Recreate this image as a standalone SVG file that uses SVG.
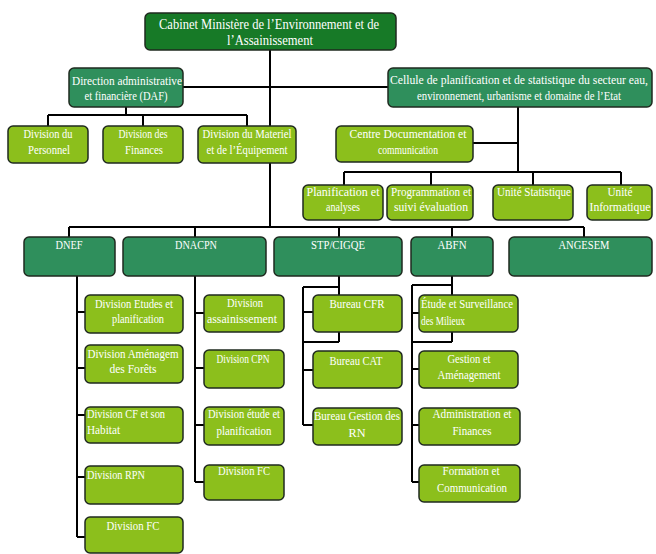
<svg xmlns="http://www.w3.org/2000/svg" width="656" height="554" viewBox="0 0 656 554">
<style>
.bg{fill:#ffffff}
.top{fill:#177a27;stroke:#1f2a1f;stroke-width:1.5}
.mid{fill:#2f8f5c;stroke:#1f2a1f;stroke-width:1.5}
.lt{fill:#8cbf1c;stroke:#1f2a1f;stroke-width:1.5}
.ln{stroke:#000;stroke-width:2;fill:none}
text{font-family:'Liberation Serif','Times New Roman',serif;fill:#ffffff;font-size:12px}
.c{text-anchor:middle}
.t14{font-size:14px}
</style>
<rect class="bg" x="0" y="0" width="656" height="554"/>
<g id="connectors">
<path class="ln" d="M270 50V227M183 87H388"/>
<path class="ln" d="M126 107V115M48 115H247M48 115V126M143 115V126M247 115V126"/>
<path class="ln" d="M518 107V172M473 143H518M344 172H621M344 172V185M431 172V185M533 172V185M621 172V185"/>
<path class="ln" d="M69 227H584M69 227V237M195 227V237M339 227V237M452 227V237M584 227V237"/>
<path class="ln" d="M77 276V537M77 312H85M77 368H85M77 415H85M77 477H85M77 537H85"/>
<path class="ln" d="M195 276V482M195 313H204M195 368H204M195 425H204M195 482H204"/>
<path class="ln" d="M339 276V342M303 287H339M303 342H339M303 287V425M303 312H313M303 370H313M303 425H313"/>
<path class="ln" d="M452 276V342M412 285H452M412 342H452M412 285V482M412 313H419M412 369H419M412 425H419M412 482H419"/>
</g>
<g id="cabinet"><rect class="top" x="145" y="13" width="251" height="37" rx="5"/>
<text class="c t14" x="269" y="29" textLength="220" lengthAdjust="spacingAndGlyphs">Cabinet Ministère de l’Environnement et de</text>
<text class="c t14" x="270" y="45" textLength="86" lengthAdjust="spacingAndGlyphs">l’Assainissement</text></g>
<g id="daf"><rect class="mid" x="69" y="68" width="114" height="39" rx="5"/>
<text class="c" x="127" y="85" textLength="110" lengthAdjust="spacingAndGlyphs">Direction administrative</text>
<text class="c" x="126" y="100" textLength="83" lengthAdjust="spacingAndGlyphs">et financière (DAF)</text></g>
<g id="cellule"><rect class="mid" x="388" y="68" width="264" height="39" rx="5"/>
<text class="c" x="519" y="84" textLength="258" lengthAdjust="spacingAndGlyphs">Cellule de planification et de statistique du secteur  eau,</text>
<text class="c" x="519" y="100" textLength="204" lengthAdjust="spacingAndGlyphs">environnement, urbanisme et domaine de l’Etat</text></g>
<g id="personnel"><rect class="lt" x="8" y="126" width="80" height="37" rx="5"/>
<text class="c" x="48" y="138" textLength="49" lengthAdjust="spacingAndGlyphs">Division du</text>
<text class="c" x="49" y="154" textLength="42" lengthAdjust="spacingAndGlyphs">Personnel</text></g>
<g id="finances"><rect class="lt" x="103" y="126" width="80" height="37" rx="5"/>
<text class="c" x="143" y="138" textLength="49" lengthAdjust="spacingAndGlyphs">Division des</text>
<text class="c" x="144" y="154" textLength="38" lengthAdjust="spacingAndGlyphs">Finances</text></g>
<g id="materiel"><rect class="lt" x="198" y="126" width="98" height="37" rx="5"/>
<text class="c" x="247" y="138" textLength="89" lengthAdjust="spacingAndGlyphs">Division du Materiel</text>
<text class="c" x="247" y="154" textLength="81" lengthAdjust="spacingAndGlyphs">et de l’Équipement</text></g>
<g id="centre-doc"><rect class="lt" x="336" y="126" width="137" height="36" rx="5"/>
<text class="c" x="408" y="138" textLength="117" lengthAdjust="spacingAndGlyphs">Centre Documentation et</text>
<text class="c" x="408" y="154" textLength="60" lengthAdjust="spacingAndGlyphs">communication</text></g>
<g id="planif"><rect class="lt" x="303" y="185" width="80" height="35" rx="5"/>
<text class="c" x="343" y="196" textLength="73" lengthAdjust="spacingAndGlyphs">Planification et</text>
<text class="c" x="343" y="211" textLength="34" lengthAdjust="spacingAndGlyphs">analyses</text></g>
<g id="programmation"><rect class="lt" x="387" y="185" width="86" height="35" rx="5"/>
<text class="c" x="431" y="196" textLength="80" lengthAdjust="spacingAndGlyphs">Programmation et</text>
<text class="c" x="431" y="211" textLength="74" lengthAdjust="spacingAndGlyphs">suivi évaluation</text></g>
<g id="unite-stat"><rect class="lt" x="493" y="185" width="80" height="35" rx="5"/>
<text class="c" x="534" y="196" textLength="74" lengthAdjust="spacingAndGlyphs">Unité Statistique</text></g>
<g id="unite-info"><rect class="lt" x="587" y="185" width="65" height="35" rx="5"/>
<text class="c" x="620" y="196" textLength="25" lengthAdjust="spacingAndGlyphs">Unité</text>
<text class="c" x="620" y="211" textLength="61" lengthAdjust="spacingAndGlyphs">Informatique</text></g>
<g id="dnef"><rect class="mid" x="24" y="237" width="91" height="39" rx="5"/>
<text class="c" x="69" y="249" textLength="27" lengthAdjust="spacingAndGlyphs">DNEF</text></g>
<g id="dnacpn"><rect class="mid" x="123" y="237" width="143" height="39" rx="5"/>
<text class="c" x="196" y="249" textLength="42" lengthAdjust="spacingAndGlyphs">DNACPN</text></g>
<g id="stp"><rect class="mid" x="274" y="237" width="128" height="39" rx="5"/>
<text class="c" x="338" y="249" textLength="54" lengthAdjust="spacingAndGlyphs">STP/CIGQE</text></g>
<g id="abfn"><rect class="mid" x="411" y="237" width="82" height="39" rx="5"/>
<text class="c" x="452" y="249" textLength="29" lengthAdjust="spacingAndGlyphs">ABFN</text></g>
<g id="angesem"><rect class="mid" x="509" y="237" width="143" height="39" rx="5"/>
<text class="c" x="584" y="249" textLength="51" lengthAdjust="spacingAndGlyphs">ANGESEM</text></g>
<g id="dnef-etudes"><rect class="lt" x="85" y="295" width="98" height="38" rx="5"/>
<text class="c" x="134" y="308" textLength="78" lengthAdjust="spacingAndGlyphs">Division Etudes et</text>
<text class="c" x="138" y="323" textLength="52" lengthAdjust="spacingAndGlyphs">planification</text></g>
<g id="dnef-amenag"><rect class="lt" x="85" y="345" width="98" height="38" rx="5"/>
<text class="c" x="133" y="358" textLength="91" lengthAdjust="spacingAndGlyphs">Division Aménagem</text>
<text class="c" x="133" y="373" textLength="47" lengthAdjust="spacingAndGlyphs">des Forêts</text></g>
<g id="dnef-cf"><rect class="lt" x="85" y="407" width="98" height="36" rx="5"/>
<text x="87" y="418" textLength="78" lengthAdjust="spacingAndGlyphs">Division CF et son</text>
<text x="87" y="434" textLength="33" lengthAdjust="spacingAndGlyphs">Habitat</text></g>
<g id="dnef-rpn"><rect class="lt" x="85" y="466" width="98" height="38" rx="5"/>
<text x="87" y="479" textLength="58" lengthAdjust="spacingAndGlyphs">Division RPN</text></g>
<g id="dnef-fc"><rect class="lt" x="85" y="517" width="98" height="36" rx="5"/>
<text class="c" x="133" y="530" textLength="53" lengthAdjust="spacingAndGlyphs">Division FC</text></g>
<g id="dnacpn-assain"><rect class="lt" x="204" y="295" width="80" height="37" rx="5"/>
<text class="c" x="245" y="307" textLength="36" lengthAdjust="spacingAndGlyphs">Division</text>
<text class="c" x="242" y="323" textLength="70" lengthAdjust="spacingAndGlyphs">assainissement</text></g>
<g id="dnacpn-cpn"><rect class="lt" x="204" y="350" width="80" height="38" rx="5"/>
<text class="c" x="243" y="363" textLength="53" lengthAdjust="spacingAndGlyphs">Division CPN</text></g>
<g id="dnacpn-etude"><rect class="lt" x="204" y="407" width="80" height="38" rx="5"/>
<text class="c" x="244" y="418" textLength="72" lengthAdjust="spacingAndGlyphs">Division étude et</text>
<text class="c" x="244" y="435" textLength="55" lengthAdjust="spacingAndGlyphs">planification</text></g>
<g id="dnacpn-fc"><rect class="lt" x="204" y="465" width="80" height="35" rx="5"/>
<text class="c" x="244" y="475" textLength="52" lengthAdjust="spacingAndGlyphs">Division FC</text></g>
<g id="stp-cfr"><rect class="lt" x="313" y="295" width="89" height="37" rx="5"/>
<text class="c" x="357" y="308" textLength="55" lengthAdjust="spacingAndGlyphs">Bureau CFR</text></g>
<g id="stp-cat"><rect class="lt" x="313" y="351" width="89" height="37" rx="5"/>
<text class="c" x="356" y="365" textLength="53" lengthAdjust="spacingAndGlyphs">Bureau CAT</text></g>
<g id="stp-rn"><rect class="lt" x="313" y="408" width="89" height="37" rx="5"/>
<text class="c" x="357" y="420" textLength="86" lengthAdjust="spacingAndGlyphs">Bureau Gestion des</text>
<text class="c" x="357" y="437" textLength="17" lengthAdjust="spacingAndGlyphs">RN</text></g>
<g id="abfn-etude"><rect class="lt" x="419" y="295" width="99" height="37" rx="5"/>
<text x="421" y="308" textLength="92" lengthAdjust="spacingAndGlyphs">Étude et Surveillance</text>
<text x="421" y="325" textLength="44" lengthAdjust="spacingAndGlyphs">des Milieux</text></g>
<g id="abfn-gestion"><rect class="lt" x="419" y="351" width="99" height="37" rx="5"/>
<text class="c" x="469" y="363" textLength="43" lengthAdjust="spacingAndGlyphs">Gestion et</text>
<text class="c" x="469" y="379" textLength="63" lengthAdjust="spacingAndGlyphs">Aménagement</text></g>
<g id="abfn-admin"><rect class="lt" x="419" y="408" width="101" height="37" rx="5"/>
<text class="c" x="472" y="418" textLength="79" lengthAdjust="spacingAndGlyphs">Administration et</text>
<text class="c" x="472" y="435" textLength="39" lengthAdjust="spacingAndGlyphs">Finances</text></g>
<g id="abfn-formation"><rect class="lt" x="419" y="465" width="101" height="37" rx="5"/>
<text class="c" x="471" y="475" textLength="57" lengthAdjust="spacingAndGlyphs">Formation et</text>
<text class="c" x="472" y="492" textLength="70" lengthAdjust="spacingAndGlyphs">Communication</text></g>
</svg>
